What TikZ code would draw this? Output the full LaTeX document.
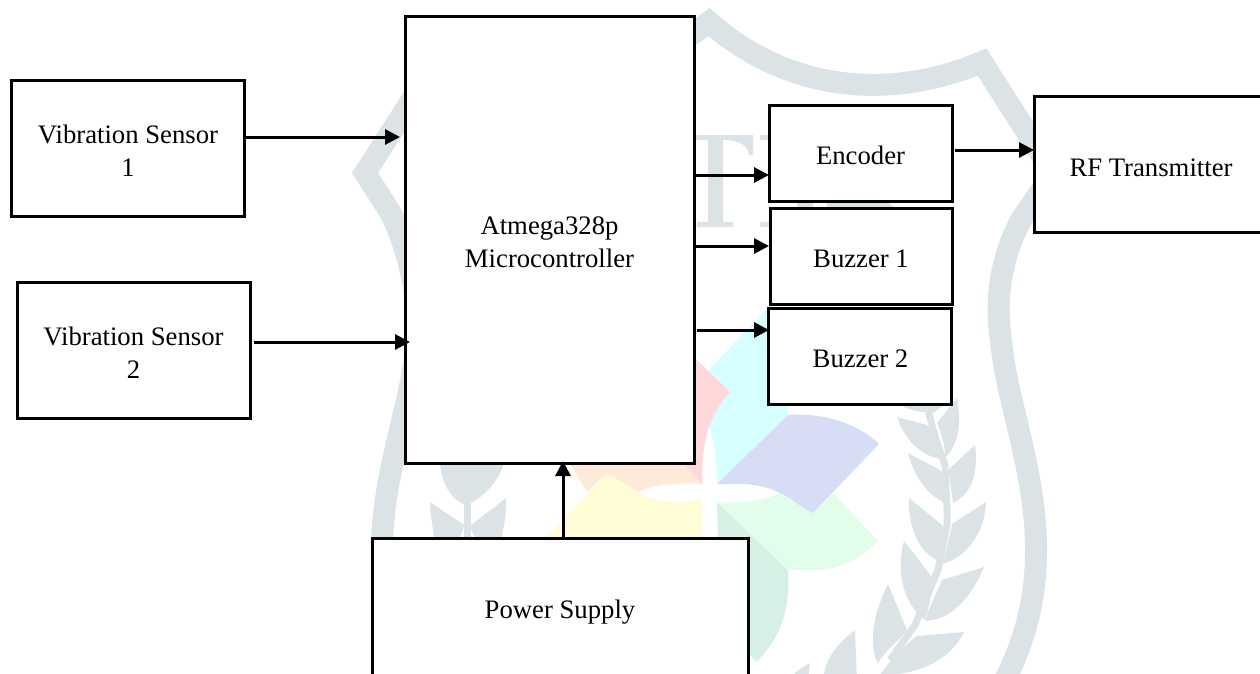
\documentclass[tikz,border=0pt]{standalone}
\usepackage{fontspec}
\setmainfont{Liberation Serif}
\usetikzlibrary{arrows.meta}
\definecolor{wmgray}{HTML}{DCE3E6}
\definecolor{wmpink}{HTML}{FFD9D9}
\definecolor{wmcyan}{HTML}{D6FFFF}
\definecolor{wmblue}{HTML}{D6DDF5}
\definecolor{wmgreen}{HTML}{E3FDEB}
\definecolor{wmteal}{HTML}{D6F0E6}
\definecolor{wmorange}{HTML}{FFE9D9}
\definecolor{wmyellow}{HTML}{FFFCD6}
\tikzset{
  blockbox/.style={draw=black,fill=white,line width=3pt,inner sep=0pt,outer sep=0pt},
  blocktext/.style={inner sep=0pt,outer sep=0pt,align=center,yshift=-2.5pt,
    font=\fontsize{26.7}{33}\selectfont},
  conn/.style={draw=black,line width=3pt,-{Triangle[length=15pt,width=15pt]}},
  band/.style={draw=wmgray,line width=22pt,line join=miter,miter limit=10},
  leaf/.style={fill=wmgray,draw=none},
  stem/.style={draw=wmgray,line width=7pt}
}
% leaf: tip, control, control, bottom, control, control, inner point
\newcommand{\wmleaf}[7]{\fill[leaf] (#1) .. controls (#2) and (#3) .. (#4) .. controls (#5) and (#6) .. (#7) -- cycle;}
\begin{document}
\begin{tikzpicture}[x=1pt,y=-1pt]
\useasboundingbox (0,0) rectangle (1260,673);
\clip (0,0) rectangle (1260,673);
% ---- watermark: shield
\draw[band] (382,550) .. controls (382,470) and (414,400) .. (418,330)
  .. controls (418,290) and (405,240) .. (390,212) -- (365,173)
  -- (436,62) .. controls (520,100) and (620,90) .. (709,22)
  .. controls (780,85) and (880,105) .. (982,62) -- (1053,173) -- (1021,220)
  .. controls (1000,260) and (995,300) .. (1001,340)
  .. controls (1006,400) and (1036,470) .. (1036,550)
  .. controls (1036,600) and (1025,640) .. (1005,680);
% ---- watermark: letters
\fill[wmgray] (677,135) -- (753,135) -- (753,155) -- (749,155) .. controls (747,145) and (740,140) .. (723,140)
  -- (723,222) -- (733,222) -- (733,227) -- (697,227) -- (697,222) -- (708,222) -- (708,140) -- (677,140) -- cycle;
\fill[wmgray] (760,135) rectangle (772,140);
\fill[wmgray] (760,222) rectangle (772,227);
\fill[wmgray] (797,200) rectangle (813,209);
\fill[wmgray] (827,200) -- (885,200) -- (897,209) -- (827,209) -- cycle;
% ---- watermark: petals
\fill[wmcyan] (709,370) -- (772,303) -- (788,380) -- (788,415) -- (717,484)
  .. controls (717,460) and (714,440) .. (709,427) -- cycle;
\fill[wmpink] (694,357) -- (730,392) .. controls (718,405) and (712,418) .. (709,427)
  .. controls (703,445) and (702,465) .. (702,484) -- (680,463) -- (680,357) -- cycle;
\fill[wmorange] (556,440) -- (587,492) -- (607,473) .. controls (618,480) and (628,486) .. (638,492)
  .. controls (650,486) and (670,482) .. (702,484) -- (660,440) -- cycle;
\fill[wmyellow] (607,473) -- (540,545) -- (702,545) -- (702,500)
  .. controls (680,503) and (655,503) .. (638,492) .. controls (628,486) and (618,480) .. (607,473) -- cycle;
\fill[wmteal] (717,502) -- (788,570) .. controls (790,610) and (782,635) .. (757,662) -- (720,625) -- cycle;
\fill[wmgreen] (717,502) .. controls (745,504) and (765,500) .. (780,493) -- (813,513) -- (833,493)
  -- (878,541) .. controls (860,560) and (835,572) .. (808,570) -- (788,570) -- cycle;
\fill[wmblue] (717,484) -- (788,415) .. controls (825,412) and (860,425) .. (879,444) -- (813,513)
  .. controls (800,507) and (790,497) .. (780,493) .. controls (768,487) and (755,484) .. (740,484) -- cycle;
% ---- watermark: right wheat
\draw[stem] (928,410) -- (936,440) -- (945,465) -- (947,510) -- (947,525) -- (938,570) -- (915,625) -- (890,660);
\wmleaf{897,400}{900,408}{915,412}{933,413}{940,408}{945,404}{950,400}
\wmleaf{897,417}{905,440}{920,455}{940,459}{940,448}{936,435}{927,425}
\wmleaf{957,398}{962,425}{958,445}{945,458}{945,445}{942,435}{937,423}
\wmleaf{908,453}{915,480}{930,498}{950,505}{950,490}{948,480}{940,470}
\wmleaf{975,445}{979,475}{970,495}{953,503}{951,490}{950,478}{948,470}
\wmleaf{909,498}{908,530}{920,555}{943,563}{945,550}{945,535}{942,525}
\wmleaf{986,502}{985,530}{970,555}{943,564}{946,550}{950,535}{952,524}
\wmleaf{904,541}{895,575}{905,605}{925,620}{930,605}{932,590}{932,577}
\wmleaf{984,567}{970,600}{950,620}{925,621}{930,605}{938,590}{942,580}
\wmleaf{888,584}{870,620}{870,650}{878,663}{885,650}{900,640}{907,630}
\wmleaf{964,632}{950,660}{920,675}{880,675}{890,660}{905,645}{917,636}
\wmleaf{855,630}{835,645}{825,660}{823,680}{835,680}{850,680}{857,680}
\wmleaf{810,663}{800,668}{795,672}{790,680}{795,680}{805,680}{808,680}
% ---- watermark: left wheat
\draw[stem] (467,500) -- (467,545);
\wmleaf{440,460}{440,480}{450,500}{466,505}{482,500}{500,480}{505,460}
\wmleaf{430,502}{430,515}{433,530}{436,545}{450,545}{460,545}{464,525}
\wmleaf{506,498}{507,515}{503,530}{500,545}{490,545}{475,545}{470,526}
% ---- blocks
\node[blockbox,minimum width=233pt,minimum height=136pt,label={[blocktext,xshift=0.5pt]center:{Vibration Sensor\\1}}] (vs1) at (127.5,148) {};
\node[blockbox,minimum width=233pt,minimum height=136pt,label={[blocktext]center:{Vibration Sensor\\2}}] (vs2) at (133.5,350) {};
\node[blockbox,minimum width=289pt,minimum height=447pt,label={[blocktext]center:{Atmega328p\\Microcontroller}}] (mcu) at (549.5,239.5) {};
\node[blockbox,minimum width=183pt,minimum height=96pt,label={[blocktext]center:{Encoder}}] (enc) at (860.5,153) {};
\node[blockbox,minimum width=182pt,minimum height=96pt,label={[blocktext]center:{Buzzer 1}}] (buz1) at (861,256) {};
\node[blockbox,minimum width=183pt,minimum height=96pt,label={[blocktext,xshift=1pt]center:{Buzzer 2}}] (buz2) at (859.5,356) {};
\node[blockbox,minimum width=234pt,minimum height=136pt,label={[blocktext,yshift=-1pt]center:{RF Transmitter}}] (rf) at (1151,164) {};
\node[blockbox,minimum width=376pt,minimum height=144pt,label={[blocktext]center:{Power Supply}}] (pow) at (560,610) {};
% ---- connectors
\draw[conn] ([yshift=11pt]vs1.east) -- ([xshift=-5pt,yshift=102.5pt]mcu.west);
\draw[conn] ([xshift=4pt,yshift=8pt]vs2.east) -- ([xshift=5pt,yshift=-102.5pt]mcu.west);
\draw[conn] ([xshift=1pt,yshift=64.5pt]mcu.east) -- ([yshift=-22pt]enc.west);
\draw[conn] ([xshift=2pt,yshift=-6.5pt]mcu.east) -- ([xshift=-1pt,yshift=10pt]buz1.west);
\draw[conn] ([xshift=3pt,yshift=-90.5pt]mcu.east) -- ([xshift=1pt,yshift=26pt]buz2.west);
\draw[conn] ([xshift=3pt,yshift=3pt]enc.east) -- ([yshift=14pt]rf.west);
\draw[conn] ([xshift=3pt]pow.north) -- ([xshift=13.5pt,yshift=2pt]mcu.south);
\end{tikzpicture}
\end{document}
